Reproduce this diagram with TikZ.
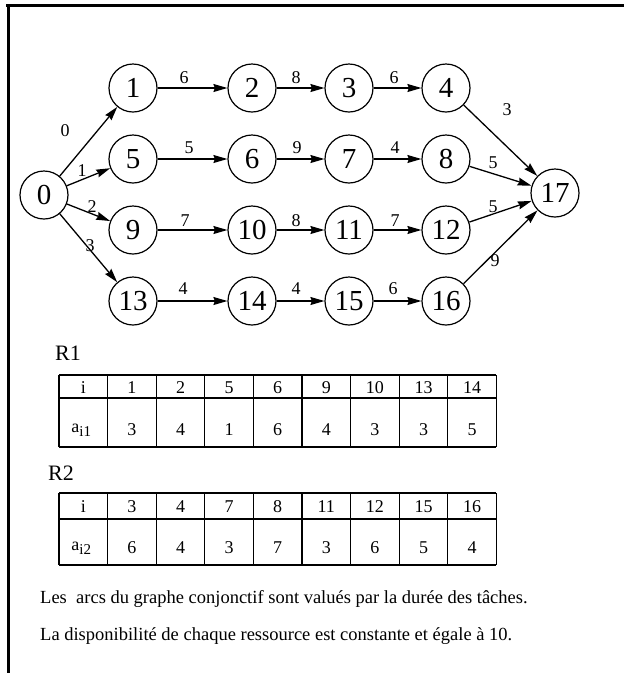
\documentclass[tikz,border=0pt]{standalone}
\usepackage{fontspec}
\setmainfont{Liberation Serif}
\usetikzlibrary{arrows.meta}
\begin{document}
\begin{tikzpicture}[x=1pt,y=-1pt,
  nd/.style={draw,circle,line width=1.2pt,minimum size=48pt,inner sep=0pt,font=\fontsize{29}{29}\selectfont},
  ar/.style={line width=1.3pt,-{Stealth[length=14pt,width=8pt,inset=1.5pt]}},
  lbl/.style={font=\fontsize{18}{18}\selectfont,inner sep=0pt},
  tb/.style={font=\fontsize{18}{18}\selectfont,inner sep=0pt},
  hd/.style={font=\fontsize{22}{22}\selectfont,inner sep=0pt,anchor=west},
  txt/.style={font=\fontsize{18.5}{18.5}\selectfont,inner sep=0pt,anchor=west},
  grid/.style={line width=1.2pt}]
\useasboundingbox (0,0) rectangle (624,673);
% frame
\draw[line width=3pt] (6,5) -- (624,5);
\draw[line width=3pt] (8,5) -- (8,673);
% nodes
\node[nd] (n0) at (44,195) {0};
\node[nd] (n1) at (133,88) {1};
\node[nd] (n2) at (252,88) {2};
\node[nd] (n3) at (349,88) {3};
\node[nd] (n4) at (446,88) {4};
\node[nd] (n5) at (133,159) {5};
\node[nd] (n6) at (252,159) {6};
\node[nd] (n7) at (349,159) {7};
\node[nd] (n8) at (446,159) {8};
\node[nd] (n9) at (133,230) {9};
\node[nd] (n10) at (252,230) {10};
\node[nd] (n11) at (349,230) {11};
\node[nd] (n12) at (446,230) {12};
\node[nd] (n13) at (133,301) {13};
\node[nd] (n14) at (252,301) {14};
\node[nd] (n15) at (349,301) {15};
\node[nd] (n16) at (446,301) {16};
\node[nd] (n17) at (555,193) {17};
% edges
\draw[ar] (n0) -- (n1);
\draw[ar] (n0) -- (n5);
\draw[ar] (n0) -- (n9);
\draw[ar] (n0) -- (n13);
\draw[ar] (n1) -- (n2);
\draw[ar] (n2) -- (n3);
\draw[ar] (n3) -- (n4);
\draw[ar] (n5) -- (n6);
\draw[ar] (n6) -- (n7);
\draw[ar] (n7) -- (n8);
\draw[ar] (n9) -- (n10);
\draw[ar] (n10) -- (n11);
\draw[ar] (n11) -- (n12);
\draw[ar] (n13) -- (n14);
\draw[ar] (n14) -- (n15);
\draw[ar] (n15) -- (n16);
\draw[ar] (n4) -- (n17);
\draw[ar] (n8) -- (n17);
\draw[ar] (n12) -- (n17);
\draw[ar] (n16) -- (n17);
% edge labels
\node[lbl] (l01) at (65,131) {0};
\node[lbl] (l05) at (82,171) {1};
\node[lbl] (l09) at (92,207) {2};
\node[lbl] (l013) at (90,246) {3};
\node[lbl] (l12) at (184,78) {6};
\node[lbl] (l23) at (296,78) {8};
\node[lbl] (l34) at (394,78) {6};
\node[lbl] (l417) at (507,110) {3};
\node[lbl] (l56) at (189,148) {5};
\node[lbl] (l67) at (297,148) {9};
\node[lbl] (l78) at (395,148) {4};
\node[lbl] (l817) at (493,163) {5};
\node[lbl] (l910) at (185,221) {7};
\node[lbl] (l1011) at (296,221) {8};
\node[lbl] (l1112) at (395,221) {7};
\node[lbl] (l1217) at (493,207) {5};
\node[lbl] (l1314) at (183,289) {4};
\node[lbl] (l1415) at (296,289) {4};
\node[lbl] (l1516) at (393,289) {6};
\node[lbl] (l1617) at (495,261) {9};
% R1
\node[hd] (r1) at (55,353) {R1};
\foreach \i in {0,...,9} \draw[grid] (59+\i*48.6,375) -- (59+\i*48.6,447);
\draw[grid] (59,375) -- (496.4,375);
\draw[grid] (59,398) -- (496.4,398);
\draw[grid] (59,447) -- (496.4,447);
\node[tb] (t1h) at (83.3,388) {i};
\foreach \v [count=\k] in {1,2,5,6,9,10,13,14} \node[tb] at (83.3+\k*48.6,388) {\v};
\node[tb] (t1a) at (81.3,430) {a\raisebox{-0.45ex}{\fontsize{15}{15}\selectfont i1}};
\foreach \v [count=\k] in {3,4,1,6,4,3,3,5} \node[tb] at (83.3+\k*48.6,430) {\v};
% R2
\node[hd] (r2) at (48,473) {R2};
\foreach \i in {0,...,9} \draw[grid] (59+\i*48.6,493) -- (59+\i*48.6,565);
\draw[grid] (59,493) -- (496.4,493);
\draw[grid] (59,519) -- (496.4,519);
\draw[grid] (59,565) -- (496.4,565);
\node[tb] (t2h) at (83.3,507) {i};
\foreach \v [count=\k] in {3,4,7,8,11,12,15,16} \node[tb] at (83.3+\k*48.6,507) {\v};
\node[tb] (t2a) at (81.3,548) {a\raisebox{-0.45ex}{\fontsize{15}{15}\selectfont i2}};
\foreach \v [count=\k] in {6,4,3,7,3,6,5,4} \node[tb] at (83.3+\k*48.6,548) {\v};
% text
\node[txt] (tx1) at (40,599) {Les\ \ arcs du graphe conjonctif sont valués par la durée des tâches.};
\node[txt] (tx2) at (40,636) {La disponibilité de chaque ressource est constante et égale à 10.};
\end{tikzpicture}
\end{document}
